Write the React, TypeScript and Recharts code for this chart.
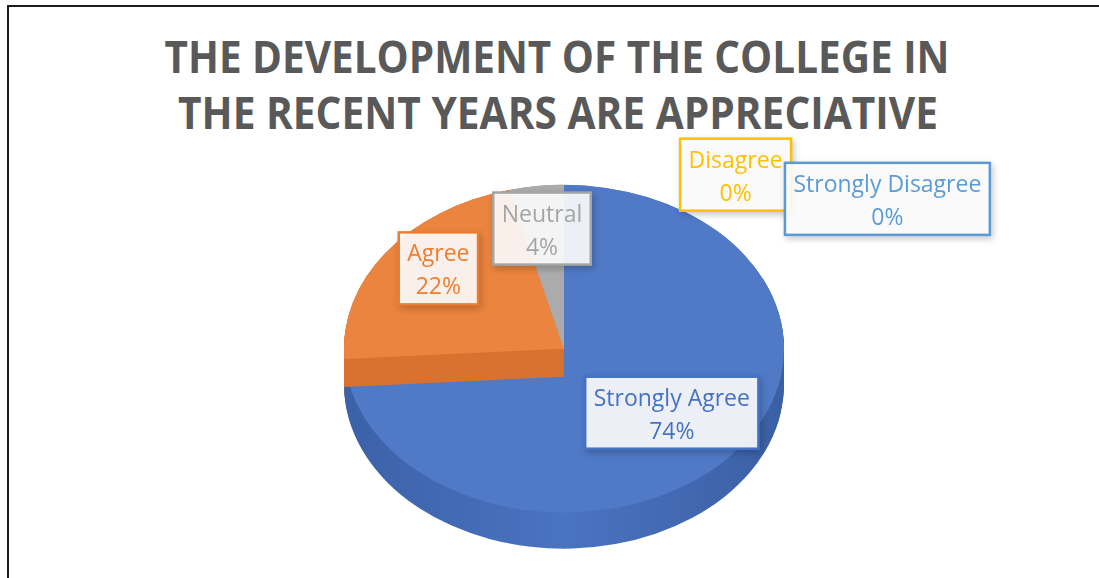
import { PieChart, Pie, Cell } from 'recharts';

// survey answers, share of responses in percent
const categories = ['Strongly Agree', 'Agree', 'Neutral', 'Disagree', 'Strongly Disagree'];
const shares = [74, 22, 4, 0, 0];

const topColors = ['#5079c6', '#ea843e', '#ababab', '#ffc000', '#5b9bd5'];
const sideColors = ['url(#blueSide)', '#c9692b', '#8c8c8c', '#d9a300', '#4a82b5'];
const bandColors = ['none', '#d9722f', 'none', 'none', 'none'];
const labelColors = ['#4472c4', '#ed7d31', '#a5a5a5', '#ffc000', '#5b9bd5'];

// label box centres, relative to the pie centre in units of the radius (layout only)
const labelSpots = [
  [0.49, 0.285],
  [-0.571, -0.371],
  [-0.1, -0.552],
  [0.78, -0.797],
  [1.47, -0.687],
];

const data = categories.map((name, i) => ({ name, value: shares[i] }));

const W = 1099;
const H = 578;
const CX = 559;
const CY = 345;
const R = 220;
const TILT = 0.745;
const DEPTH = 36 / TILT;
const BAND = 28 / TILT;
const STEP = 2;

const FONT = "'Open Sans', 'Noto Sans', sans-serif";
const LABEL_SIZE = 23;

const sideOffsets = Array.from({ length: Math.ceil(DEPTH / STEP) }, (_, i) => DEPTH - i * STEP);
const bandOffsets = Array.from({ length: Math.ceil(BAND / STEP) }, (_, i) => BAND - i * STEP);

const ctx = typeof document !== 'undefined' ? document.createElement('canvas').getContext('2d') : null;
const textWidth = (s: string) => {
  if (!ctx) return s.length * LABEL_SIZE * 0.5;
  ctx.font = `${LABEL_SIZE}px ${FONT}`;
  return ctx.measureText(s).width;
};

const renderLabel = (props: any) => {
  const { cx, cy, outerRadius, index } = props;
  const [fx, fy] = labelSpots[index];
  const x = cx + fx * outerRadius;
  const y = cy + fy * outerRadius;
  const name = categories[index];
  const pct = `${shares[index]}%`;
  const w = Math.max(textWidth(name), textWidth(pct)) + 17;
  const h = 72;
  const color = labelColors[index];
  return (
    <g key={`lbl-${index}`} style={{ filter: 'drop-shadow(2px 3px 3px rgba(0,0,0,0.22))' }}>
      <rect x={x - w / 2} y={y - h / 2} width={w} height={h} fill="#ffffff" fillOpacity={0.9} stroke={color} strokeWidth={2.5} />
      <text x={x} y={y - 16} textAnchor="middle" dominantBaseline="central" fill={color} fontSize={LABEL_SIZE} fontFamily={FONT}>
        {name}
      </text>
      <text x={x} y={y + 17} textAnchor="middle" dominantBaseline="central" fill={color} fontSize={LABEL_SIZE} fontFamily={FONT}>
        {pct}
      </text>
    </g>
  );
};

const slice = (key: string, off: number, colors: string[]) => (
  <Pie
    key={key}
    data={data}
    dataKey="value"
    cx={CX}
    cy={CY + off}
    outerRadius={R}
    startAngle={90}
    endAngle={-270}
    stroke="none"
    isAnimationActive={false}
  >
    {data.map((d, i) => (
      <Cell key={d.name} fill={colors[i]} />
    ))}
  </Pie>
);

export default function App() {
  return (
    <div style={{ position: 'fixed', left: 0, top: 0, width: W, height: H, overflow: 'hidden', background: '#fff' }}>
      <svg width={W} height={150} style={{ position: 'absolute', left: 0, top: 0 }}>
        <text x={557} y={73} textAnchor="middle" fontFamily={FONT} fontWeight={700} fontSize={44} fill="#595959" textLength={785} lengthAdjust="spacingAndGlyphs">
          THE DEVELOPMENT OF THE COLLEGE IN
        </text>
        <text x={558} y={129} textAnchor="middle" fontFamily={FONT} fontWeight={700} fontSize={44} fill="#595959" textLength={760} lengthAdjust="spacingAndGlyphs">
          THE RECENT YEARS ARE APPRECIATIVE
        </text>
      </svg>
      <div style={{ position: 'absolute', left: 0, top: 0, transform: `scaleY(${TILT})`, transformOrigin: `0px ${CY}px` }}>
        <PieChart width={W} height={700}>
          <defs>
            <linearGradient id="blueSide" x1="0" y1="0" x2="1" y2="0">
              <stop offset="0" stopColor="#3b61a8" />
              <stop offset="0.5" stopColor="#4a73c0" />
              <stop offset="1" stopColor="#3a5fa4" />
            </linearGradient>
          </defs>
          {sideOffsets.map((off) => slice(`side-${off}`, off, sideColors))}
          {slice('top', 0, topColors)}
          {bandOffsets.map((off) => slice(`band-${off}`, off, bandColors))}
          {slice('top2', 0, topColors.map((c, i) => (i === 0 ? 'none' : c)))}
        </PieChart>
      </div>
      <div style={{ position: 'absolute', left: 0, top: 0 }}>
        <PieChart width={W} height={H}>
          <Pie
            data={data}
            dataKey="value"
            cx={CX}
            cy={CY}
            outerRadius={R}
            startAngle={90}
            endAngle={-270}
            fill="none"
            stroke="none"
            label={renderLabel}
            labelLine={false}
            isAnimationActive={false}
          />
        </PieChart>
      </div>
      <div
        style={{
          position: 'absolute',
          left: 7,
          top: 5,
          width: 1200,
          height: 700,
          borderLeft: '2px solid #1c1c1c',
          borderTop: '2px solid #1c1c1c',
          pointerEvents: 'none',
        }}
      />
    </div>
  );
}
